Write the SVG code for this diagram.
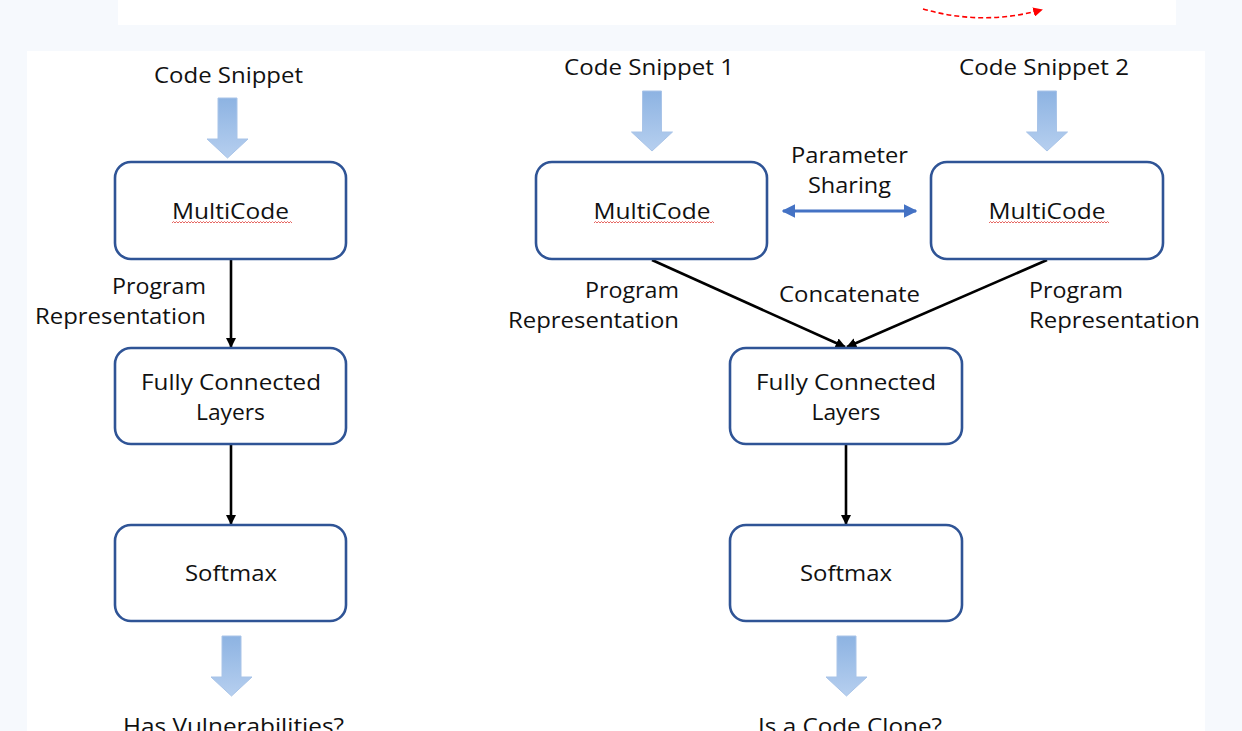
<svg xmlns="http://www.w3.org/2000/svg" width="1242" height="731" viewBox="0 0 1242 731">
  <style>
    .box { fill: #ffffff; stroke: #2f5496; stroke-width: 2.6; }
    .t { font-family: "Open Sans", "Liberation Sans", sans-serif; font-size: 21px; fill: #111111; text-anchor: middle; }
    .ts { text-anchor: end; }
    .tl { text-anchor: start; }
    .link { stroke: #000000; stroke-width: 2.6; fill: none; marker-end: url(#ah); }
    .blk { fill: url(#blockGrad); stroke: #a9c4e8; stroke-width: 1; }
    .squig { fill: none; stroke: #e0403a; stroke-width: 0.8; }
  </style>
  <defs>
    <linearGradient id="blockGrad" x1="0" y1="0" x2="0" y2="1">
      <stop offset="0" stop-color="#8db3e2"/>
      <stop offset="1" stop-color="#b6cfef"/>
    </linearGradient>
    <marker id="ah" viewBox="0 0 10 10" refX="9" refY="5" markerWidth="4" markerHeight="4" orient="auto" markerUnits="strokeWidth">
      <path d="M0,0 L10,5 L0,10 z" fill="#000000"/>
    </marker>
    <marker id="bh" viewBox="0 0 10 10" refX="9" refY="5" markerWidth="4.5" markerHeight="4.5" orient="auto-start-reverse" markerUnits="strokeWidth">
      <path d="M0,0 L10,5 L0,10 z" fill="#4472c4"/>
    </marker>
    <marker id="rh" viewBox="0 0 10 10" refX="8" refY="5" markerWidth="6" markerHeight="6" orient="auto" markerUnits="strokeWidth">
      <path d="M0,0 L10,5 L0,10 z" fill="#ff0000"/>
    </marker>
    <!-- down block arrow, tip at origin -->
    <path id="down" class="blk" d="M-9.5,-60 H9.5 V-19 H20.5 L0,0 L-20.5,-19 H-9.5 Z"/>
    <!-- spell-check squiggle, 118px long -->
    <path id="squig" class="squig" d="M0,1 l1.5,-1.5 l1.5,1.5 l1.5,-1.5 l1.5,1.5 l1.5,-1.5 l1.5,1.5 l1.5,-1.5 l1.5,1.5 l1.5,-1.5 l1.5,1.5 l1.5,-1.5 l1.5,1.5 l1.5,-1.5 l1.5,1.5 l1.5,-1.5 l1.5,1.5 l1.5,-1.5 l1.5,1.5 l1.5,-1.5 l1.5,1.5 l1.5,-1.5 l1.5,1.5 l1.5,-1.5 l1.5,1.5 l1.5,-1.5 l1.5,1.5 l1.5,-1.5 l1.5,1.5 l1.5,-1.5 l1.5,1.5 l1.5,-1.5 l1.5,1.5 l1.5,-1.5 l1.5,1.5 l1.5,-1.5 l1.5,1.5 l1.5,-1.5 l1.5,1.5 l1.5,-1.5 l1.5,1.5 l1.5,-1.5 l1.5,1.5 l1.5,-1.5 l1.5,1.5 l1.5,-1.5 l1.5,1.5 l1.5,-1.5 l1.5,1.5 l1.5,-1.5 l1.5,1.5 l1.5,-1.5 l1.5,1.5 l1.5,-1.5 l1.5,1.5 l1.5,-1.5 l1.5,1.5 l1.5,-1.5 l1.5,1.5 l1.5,-1.5 l1.5,1.5 l1.5,-1.5 l1.5,1.5 l1.5,-1.5 l1.5,1.5 l1.5,-1.5 l1.5,1.5 l1.5,-1.5 l1.5,1.5 l1.5,-1.5 l1.5,1.5 l1.5,-1.5 l1.5,1.5 l1.5,-1.5 l1.5,1.5 l1.5,-1.5 l1.5,1.5 l1.5,-1.5 l1.5,1.5 l1.5,-1.5 l1.5,1.5"/>
  </defs>

  <!-- page background and panels -->
  <rect x="0" y="0" width="1242" height="731" fill="#f6f9fd"/>
  <rect x="118" y="0" width="1058" height="25" fill="#ffffff"/>
  <rect x="27" y="51" width="1178" height="680" fill="#ffffff"/>

  <!-- red dashed curve in top strip -->
  <path d="M923,9 Q982,26 1041,10" fill="none" stroke="#ff0000" stroke-width="1.6" stroke-dasharray="5,3" marker-end="url(#rh)"/>

  <!-- input / output block arrows -->
  <g id="block-arrows">
    <use href="#down" x="227.5" y="158"/>
    <use href="#down" x="652" y="151"/>
    <use href="#down" x="1047" y="151"/>
    <use href="#down" x="231.5" y="696"/>
    <use href="#down" x="846.5" y="696"/>
  </g>

  <!-- connectors -->
  <g id="connectors">
    <line class="link" x1="231" y1="260" x2="231" y2="347"/>
    <line class="link" x1="231" y1="445" x2="231" y2="524"/>
    <line class="link" x1="652" y1="260" x2="845" y2="347"/>
    <line class="link" x1="1047" y1="260" x2="847" y2="347"/>
    <line class="link" x1="846" y1="445" x2="846" y2="524"/>
    <line x1="783" y1="211" x2="916" y2="211" stroke="#4472c4" stroke-width="3" marker-start="url(#bh)" marker-end="url(#bh)"/>
  </g>

  <!-- left pipeline: vulnerability detection -->
  <g id="in-left"><text class="t" x="228.5" y="83" textLength="149" lengthAdjust="spacingAndGlyphs">Code Snippet</text></g>
  <g id="mc-left">
    <rect class="box" x="115" y="162" width="231" height="97" rx="16"/>
    <text class="t" x="230.5" y="219" textLength="117" lengthAdjust="spacingAndGlyphs">MultiCode</text>
    <use href="#squig" x="172" y="222"/>
  </g>
  <g id="lbl-left">
    <text class="t ts" x="206" y="294" textLength="94" lengthAdjust="spacingAndGlyphs">Program</text>
    <text class="t ts" x="206" y="324" textLength="171" lengthAdjust="spacingAndGlyphs">Representation</text>
  </g>
  <g id="fc-left">
    <rect class="box" x="115" y="348" width="231" height="96" rx="16"/>
    <text class="t" x="231" y="390" textLength="180" lengthAdjust="spacingAndGlyphs">Fully Connected</text>
    <text class="t" x="230.5" y="420" textLength="69" lengthAdjust="spacingAndGlyphs">Layers</text>
  </g>
  <g id="sm-left">
    <rect class="box" x="115" y="525" width="231" height="96" rx="16"/>
    <text class="t" x="231" y="581" textLength="92" lengthAdjust="spacingAndGlyphs">Softmax</text>
  </g>
  <g id="out-left"><text class="t" x="233.5" y="734" textLength="221" lengthAdjust="spacingAndGlyphs">Has Vulnerabilities?</text></g>

  <!-- right pipeline: clone detection -->
  <g id="in-right-1"><text class="t" x="649" y="75" textLength="170" lengthAdjust="spacingAndGlyphs">Code Snippet 1</text></g>
  <g id="in-right-2"><text class="t" x="1044" y="75" textLength="170" lengthAdjust="spacingAndGlyphs">Code Snippet 2</text></g>
  <g id="mc-right-1">
    <rect class="box" x="536" y="162" width="231" height="97" rx="16"/>
    <text class="t" x="652" y="219" textLength="117" lengthAdjust="spacingAndGlyphs">MultiCode</text>
    <use href="#squig" x="594" y="222"/>
  </g>
  <g id="mc-right-2">
    <rect class="box" x="931" y="162" width="232" height="97" rx="16"/>
    <text class="t" x="1047" y="219" textLength="117" lengthAdjust="spacingAndGlyphs">MultiCode</text>
    <use href="#squig" x="989" y="222"/>
  </g>
  <g id="lbl-share">
    <text class="t" x="849.5" y="163" textLength="117" lengthAdjust="spacingAndGlyphs">Parameter</text>
    <text class="t" x="849.5" y="193" textLength="83" lengthAdjust="spacingAndGlyphs">Sharing</text>
  </g>
  <g id="lbl-right-1">
    <text class="t ts" x="679" y="298" textLength="94" lengthAdjust="spacingAndGlyphs">Program</text>
    <text class="t ts" x="679" y="328" textLength="171" lengthAdjust="spacingAndGlyphs">Representation</text>
  </g>
  <g id="lbl-concat"><text class="t" x="849.5" y="302" textLength="141" lengthAdjust="spacingAndGlyphs">Concatenate</text></g>
  <g id="lbl-right-2">
    <text class="t tl" x="1029" y="298" textLength="94" lengthAdjust="spacingAndGlyphs">Program</text>
    <text class="t tl" x="1029" y="328" textLength="171" lengthAdjust="spacingAndGlyphs">Representation</text>
  </g>
  <g id="fc-right">
    <rect class="box" x="730" y="348" width="232" height="96" rx="16"/>
    <text class="t" x="846" y="390" textLength="180" lengthAdjust="spacingAndGlyphs">Fully Connected</text>
    <text class="t" x="846" y="420" textLength="69" lengthAdjust="spacingAndGlyphs">Layers</text>
  </g>
  <g id="sm-right">
    <rect class="box" x="730" y="525" width="232" height="96" rx="16"/>
    <text class="t" x="846" y="581" textLength="92" lengthAdjust="spacingAndGlyphs">Softmax</text>
  </g>
  <g id="out-right"><text class="t" x="850" y="734" textLength="184" lengthAdjust="spacingAndGlyphs">Is a Code Clone?</text></g>
</svg>
